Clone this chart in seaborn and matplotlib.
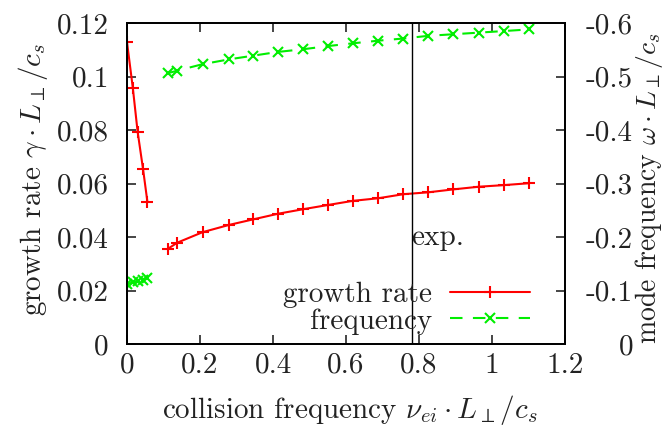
import matplotlib
matplotlib.use("Agg")
import matplotlib.pyplot as plt
from matplotlib.lines import Line2D
from matplotlib.ticker import FuncFormatter
import pandas as pd
import seaborn as sns

# Collision frequency scan: weakly collisional branch and collisional branch
nu_low = [0.0, 0.016, 0.029, 0.044, 0.056]
gamma_low = [0.1128, 0.0956, 0.0794, 0.0653, 0.0530]
omega_low = [-0.112, -0.115, -0.117, -0.120, -0.124]

nu_high = [0.111, 0.138, 0.207, 0.279, 0.346, 0.414, 0.483, 0.552,
           0.618, 0.689, 0.757, 0.825, 0.894, 0.964, 1.033, 1.101]
gamma_high = [0.0355, 0.0379, 0.0418, 0.0445, 0.0466, 0.0487, 0.0504, 0.0520,
              0.0535, 0.0545, 0.0560, 0.0567, 0.0578, 0.0588, 0.0594, 0.0601]
omega_high = [-0.506, -0.511, -0.523, -0.532, -0.539, -0.546, -0.551, -0.557,
              -0.562, -0.567, -0.571, -0.576, -0.579, -0.582, -0.585, -0.588]

nu_exp = 0.78

x_ticks = [0, 0.2, 0.4, 0.6, 0.8, 1.0, 1.2]
gamma_ticks = [0, 0.02, 0.04, 0.06, 0.08, 0.1, 0.12]
omega_ticks = [0, -0.1, -0.2, -0.3, -0.4, -0.5, -0.6]

df = pd.DataFrame({
    "nu": nu_low + nu_high,
    "gamma": gamma_low + gamma_high,
    "omega": omega_low + omega_high,
    "branch": ["low"] * len(nu_low) + ["high"] * len(nu_high),
})

sns.set_style("ticks")
plt.rcParams["font.family"] = ["cmr10", "DejaVu Serif"]
plt.rcParams["mathtext.fontset"] = "cm"
plt.rcParams["axes.unicode_minus"] = False
FS = 21
TXT = "#222222"

RED = "#ff0000"
GREEN = "#00ee00"
red_style = dict(color=RED, lw=1.5, marker="+", markersize=8,
                 markeredgewidth=1.5, markeredgecolor=RED)
green_style = dict(color=GREEN, lw=1.5, marker="x", markersize=6.5,
                   markeredgewidth=1.5, markeredgecolor=GREEN,
                   linestyle=(0, (6, 5)))

fig = plt.figure(figsize=(6.64, 4.30), dpi=100)
ax = fig.add_axes([0.1913, 0.2, 0.6596, 0.7465])
ax2 = ax.twinx()

sns.lineplot(data=df, x="nu", y="gamma", units="branch", estimator=None,
             sort=False, ax=ax, legend=False, **red_style)
sns.lineplot(data=df, x="nu", y="omega", units="branch", estimator=None,
             sort=False, ax=ax2, legend=False, **green_style)

ax.axvline(nu_exp, color="black", lw=1.0)
ax.text(nu_exp, 0.037, "exp.", fontsize=FS, ha="left", va="baseline",
        color=TXT)

fmt = FuncFormatter(lambda v, p: "%g" % round(v, 6))

ax.set_xlim(0, 1.2)
ax.set_ylim(0, 0.12)
ax2.set_ylim(0, -0.6)
ax.set_xticks(x_ticks)
ax.set_yticks(gamma_ticks)
ax2.set_yticks(omega_ticks)
for a in (ax, ax2):
    a.xaxis.set_major_formatter(fmt)
    a.yaxis.set_major_formatter(fmt)

ax.tick_params(axis="x", direction="in", top=True, bottom=True, length=6.5,
               width=1.2, labelsize=FS, pad=6, labelcolor=TXT)
ax.tick_params(axis="y", direction="in", left=True, right=False, length=6.5,
               width=1.2, labelsize=FS, pad=13, labelcolor=TXT)
ax2.tick_params(axis="y", direction="in", right=True, left=False, length=6.5,
                width=1.2, labelsize=FS, pad=49, labelcolor=TXT)
for lab in ax2.get_yticklabels():
    lab.set_horizontalalignment("right")
for a in (ax, ax2):
    for s in a.spines.values():
        s.set_linewidth(1.3)
        s.set_color("black")

ax.set_xlabel("")
ax.set_ylabel("")
ax2.set_ylabel("")
fig.text(350 / 664, 1 - 410 / 430,
         r"collision frequency $\nu_{ei} \cdot L_{\perp} / c_s$",
         fontsize=FS, ha="center", va="center", color=TXT)
fig.text(33 / 664, 1 - 180 / 430,
         r"growth rate $\gamma \cdot L_{\perp} / c_s$",
         fontsize=FS, ha="center", va="center", rotation=90, color=TXT)
fig.text(649 / 664, 1 - 188 / 430,
         r"mode frequency $\omega \cdot L_{\perp} / c_s$",
         fontsize=20, ha="center", va="center", rotation=90, color=TXT)

handles = [Line2D([], [], **red_style), Line2D([], [], **green_style)]
leg = ax2.legend(handles, ["growth rate", "frequency"], loc="lower right",
                 bbox_to_anchor=(0.798, 0.222), bbox_transform=fig.transFigure,
                 frameon=False, markerfirst=False, handlelength=2.75,
                 handletextpad=0.6, labelspacing=0.0, fontsize=FS,
                 borderaxespad=0, borderpad=0)
for t in leg.get_texts():
    t.set_color(TXT)

fig.savefig("out.png", dpi=100)
